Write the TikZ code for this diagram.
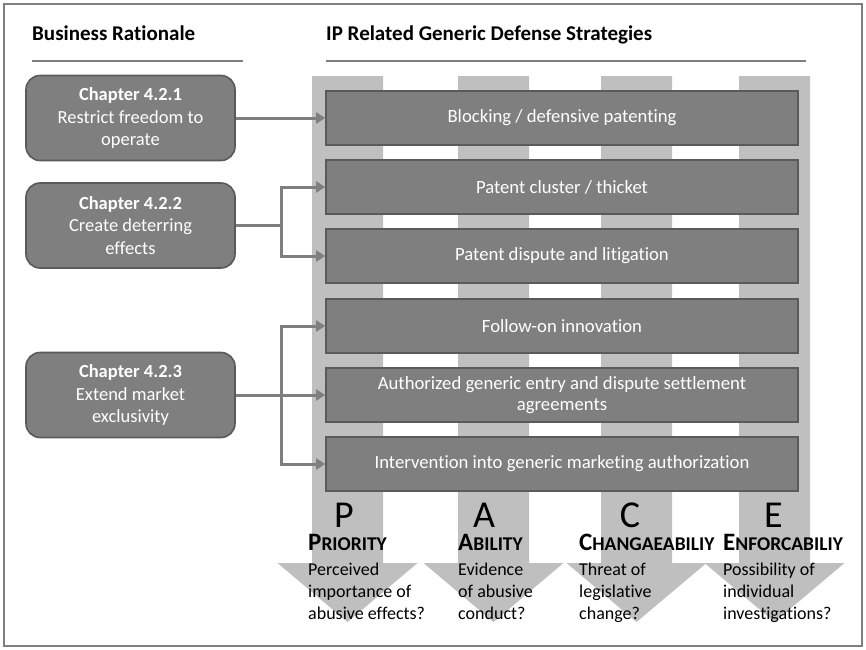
\documentclass[tikz,border=0pt]{standalone}
\usepackage{fontspec}
\setmainfont{Carlito}[Ligatures=NoCommon]
\usetikzlibrary{arrows.meta}
\definecolor{stemgray}{HTML}{BFBFBF}
\definecolor{boxgray}{HTML}{7F7F7F}
\definecolor{edgegray}{HTML}{5A5A5A}
\definecolor{linegray}{HTML}{7F7F7F}
\newcommand{\fsz}[2]{\fontsize{#1}{#2}\selectfont}
\newcommand{\smc}[2]{{\fsz{25}{25}#1}{\fsz{19.5}{25}#2}}
\tikzset{
  stratbox/.style={draw=edgegray, line width=1.6pt, fill=boxgray, text=white,
    minimum width=472pt, minimum height=54pt, inner sep=2pt, align=center,
    font=\fsz{18.7}{21}},
  chapbox/.style={draw=edgegray, line width=1.6pt, fill=boxgray, text=white,
    rounded corners=14pt, minimum width=209pt, minimum height=85pt, inner sep=2pt,
    align=center, font=\fsz{18.5}{22.5}},
  conn/.style={draw=linegray, line width=3pt},
  connarrow/.style={conn, -{Triangle[length=9pt,width=11pt]}},
  header/.style={anchor=base west, inner sep=0pt, font=\fsz{21}{25}\bfseries},
  bigletter/.style={anchor=base, inner sep=0pt, font=\fsz{38}{40}},
  crit/.style={anchor=base west, inner sep=0pt, font=\bfseries},
  critline/.style={anchor=base west, inner sep=0pt, font=\fsz{18}{22}},
}
\begin{document}
\begin{tikzpicture}[x=1pt,y=-1pt]
\useasboundingbox (0,0) rectangle (866,649);
% frame
\draw[draw=linegray, line width=1.5pt] (4,4) rectangle (862,646);
% headers
\node[header] (h1) at (32,40) {Business Rationale};
\node[header] (h2) at (326,40) {IP Related Generic Defense Strategies};
\draw[linegray, line width=2pt] (32,61) -- (243,61);
\draw[linegray, line width=2pt] (326,61) -- (806,61);
% stems (downward block arrows)
\foreach \xa/\c in {312/347.5, 458/493.5, 601/636.5, 739/774.5}{
  \fill[stemgray] (\xa,76) -- (\xa+71,76) -- (\xa+71,563) -- (\c+70,563) -- (\c,622)
    -- (\c-70,563) -- (\xa,563) -- cycle;
}
% strategy boxes
\node[stratbox] (s1) at (562,118) {Blocking / defensive patenting};
\node[stratbox] (s2) at (562,187) {Patent cluster / thicket};
\node[stratbox] (s3) at (562,256) {Patent dispute and litigation};
\node[stratbox] (s4) at (562,326) {Follow-on innovation};
\node[stratbox] (s5) at (562,395) {Authorized generic entry and dispute settlement\\agreements};
\node[stratbox] (s6) at (562,464) {Intervention into generic marketing authorization};
% chapter boxes
\node[chapbox] (c1) at (130.5,118) {\textbf{Chapter 4.2.1}\\Restrict freedom to\\operate};
\node[chapbox] (c2) at (130.5,225.5) {\textbf{Chapter 4.2.2}\\Create deterring\\effects};
\node[chapbox] (c3) at (130.5,395) {\textbf{Chapter 4.2.3}\\Extend market\\exclusivity};
% connectors
\coordinate (j2) at (281,225.5);
\coordinate (j3) at (281,395);
\draw[connarrow] (c1.east) -- (c1.east -| s1.west);
\draw[conn] (c2.east) -- (j2);
\draw[connarrow] (j2) |- (s2.west);
\draw[connarrow] (j2) |- (s3.west);
\draw[connarrow] (c3.east) -- (s5.west);
\draw[connarrow] (j3) |- (s4.west);
\draw[connarrow] (j3) |- (s6.west);
% big letters
\node[bigletter] (lp) at (344,527) {P};
\node[bigletter] (la) at (484,527) {A};
\node[bigletter] (lc) at (630,527) {C};
\node[bigletter] (le) at (773.5,527) {E};
% criteria
\node[crit] (kp) at (308,550) {\smc{P}{RIORITY}};
\node[crit] (ka) at (458,550) {\smc{A}{BILITY}};
\node[crit] (kc) at (579,550) {\smc{C}{HANGAEABILIY}};
\node[crit] (ke) at (723,550) {\smc{E}{NFORCABILIY}};
\node[critline] (p1) at (308,575) {Perceived};
\node[critline] (p2) at (308,597) {importance of};
\node[critline] (p3) at (308,619) {abusive effects?};
\node[critline] (a1) at (458,575) {Evidence};
\node[critline] (a2) at (458,597) {of abusive};
\node[critline] (a3) at (458,619) {conduct?};
\node[critline] (t1) at (579,575) {Threat of};
\node[critline] (t2) at (579,597) {legislative};
\node[critline] (t3) at (579,619) {change?};
\node[critline] (e1) at (723,575) {Possibility of};
\node[critline] (e2) at (723,597) {individual};
\node[critline] (e3) at (723,619) {investigations?};
\end{tikzpicture}
\end{document}
